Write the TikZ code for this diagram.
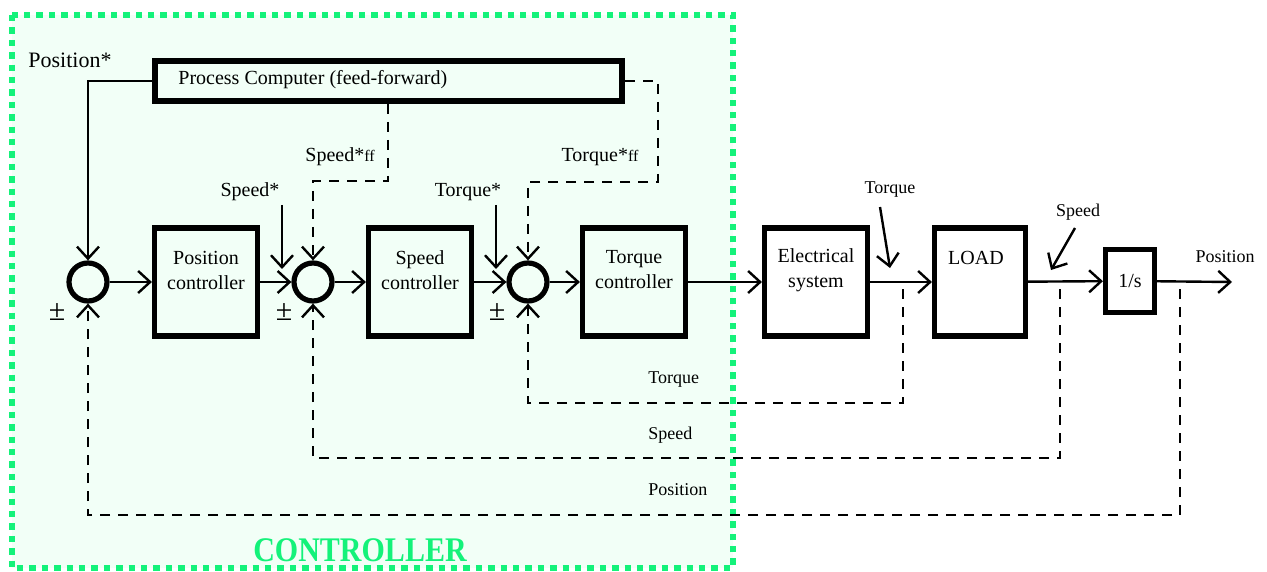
\documentclass[tikz,border=0pt]{standalone}
\usepackage{fontspec}
\setmainfont{Liberation Serif}
\usetikzlibrary{arrows.meta}
\definecolor{ctrlgreen}{RGB}{20,242,122}
\definecolor{ctrlfill}{RGB}{242,255,247}
\begin{document}
\begin{tikzpicture}[x=0.5pt,y=-0.5pt,
  >={Straight Barb[length=6pt,width=11pt,line width=1.2pt]},
  blk/.style={draw,line width=2.6pt,minimum width=51.5pt,minimum height=54pt,inner sep=0pt},
  sumnode/.style={draw,circle,line width=2.6pt,minimum size=19pt,inner sep=0pt},
  txt/.style={align=center,inner sep=0pt,font=\fontsize{10}{12.5}\selectfont},
  small/.style={inner sep=0pt,font=\fontsize{9}{11}\selectfont},
  pmsign/.style={inner sep=0pt,font=\fontsize{15}{15}\selectfont},
  sig/.style={line width=1.2pt,->},
  fb/.style={line width=1.2pt,dash pattern=on 5pt off 4pt},
  fbarrow/.style={fb,->}
]
\useasboundingbox (0,0) rectangle (1267,572);
% controller region
\draw[ctrlgreen,fill=ctrlfill,line width=3.2pt,dash pattern=on 3.2pt off 3pt] (12,15) rectangle (733,568);
\node[text=ctrlgreen,font=\fontsize{15}{18}\selectfont\bfseries,inner sep=0pt,yscale=1.15] (ctrl) at (360,550) {CONTROLLER};

% process computer
\node[draw,line width=3pt,minimum width=233.5pt,minimum height=20pt,inner sep=0pt] (pc) at (388.5,81) {};
\node[txt,anchor=west] (pct) at (178,80) {Process Computer (feed-forward)};
\node[inner sep=0pt,font=\fontsize{11}{13}\selectfont] (posstar) at (70,60) {Position*};

% summing junctions and blocks
\node[sumnode] (s1) at (88,282) {};
\node[sumnode] (s2) at (313,282) {};
\node[sumnode] (s3) at (528,282) {};
\node[blk] (posc) at (206,282) {};
\node[blk] (spc) at (420,282) {};
\node[blk] (tqc) at (634,282) {};
\node[blk] (es) at (816,282) {};
\node[blk,minimum width=45.5pt] (load) at (980,282) {};
\node[blk,minimum width=24.5pt,minimum height=31.5pt] (ints) at (1130,281) {};
\node[txt] (posct) at (206,270) {Position\\controller};
\node[txt] (spct) at (420,270) {Speed\\controller};
\node[txt] (tqct) at (634,270) {Torque\\controller};
\node[txt] (est) at (816,270) {Electrical\\system};
\node[txt] (loadt) at (976,258) {LOAD};
\node[txt] (intst) at (1130,281) {1/s};

% signs
\node[pmsign] (pm1) at (57,312) {±};
\node[pmsign] (pm2) at (284,312) {±};
\node[pmsign] (pm3) at (497,312) {±};

% forward path
\draw[sig] (s1) -- (posc);
\draw[sig] (posc) -- (s2);
\draw[sig] (s2) -- (spc);
\draw[sig] (spc) -- (s3);
\draw[sig] (s3) -- (tqc);
\draw[sig] (tqc) -- (es);
\draw[sig] (es) -- (load);
\draw[sig] (load) -- (ints);
\coordinate (out) at (1232,282);
\draw[sig] (ints) -- (out);
\node[small] (outl) at (1225,257) {Position};

% references
\draw[sig] (pc.west) -- (88,81) -- (s1.north);
\node[txt] (spstar) at (250,192) {Speed*};
\coordinate (spsa) at (282,205);
\coordinate (spsb) at (282,269);
\draw[sig] (spsa) -- (spsb);
\node[txt] (tqstar) at (468,192) {Torque*};
\coordinate (tqsa) at (496,205);
\coordinate (tqsb) at (496,269);
\draw[sig] (tqsa) -- (tqsb);

% feed-forward
\draw[fbarrow] (388,104) -- (388,181) -- (313,181) -- (s2.north);
\node[txt] (spff) at (340,157) {Speed*{\fontsize{8}{10}\selectfont ff}};
\draw[fbarrow] (pc.east) -- (658,81) -- (658,182) -- (528,182) -- (s3.north);
\node[txt] (tqff) at (600,157) {Torque*{\fontsize{8}{10}\selectfont ff}};

% measured signal labels
\node[small] (tql) at (890,190) {Torque};
\coordinate (tqla) at (880,207);
\coordinate (tqlb) at (890,268);
\draw[sig] (tqla) -- (tqlb);
\node[small] (spl) at (1078,212) {Speed};
\coordinate (spla) at (1075,228);
\coordinate (splb) at (1051,270);
\draw[sig] (spla) -- (splb);

% feedback paths
\coordinate (tap1) at (903,282);
\coordinate (tap2) at (1060,282);
\coordinate (tap3) at (1180,282);
\draw[fbarrow] (tap1) ++(0,7) -- (903,403) -- (528,403) -- (s3.south);
\draw[fbarrow] (tap2) ++(0,7) -- (1060,458) -- (313,458) -- (s2.south);
\draw[fbarrow] (tap3) ++(0,7) -- (1180,515) -- (88,515) -- (s1.south);
\node[small,anchor=west] (fbt) at (648,380) {Torque};
\node[small,anchor=west] (fbs) at (648,435) {Speed};
\node[small,anchor=west] (fbp) at (648,490) {Position};
\end{tikzpicture}
\end{document}
